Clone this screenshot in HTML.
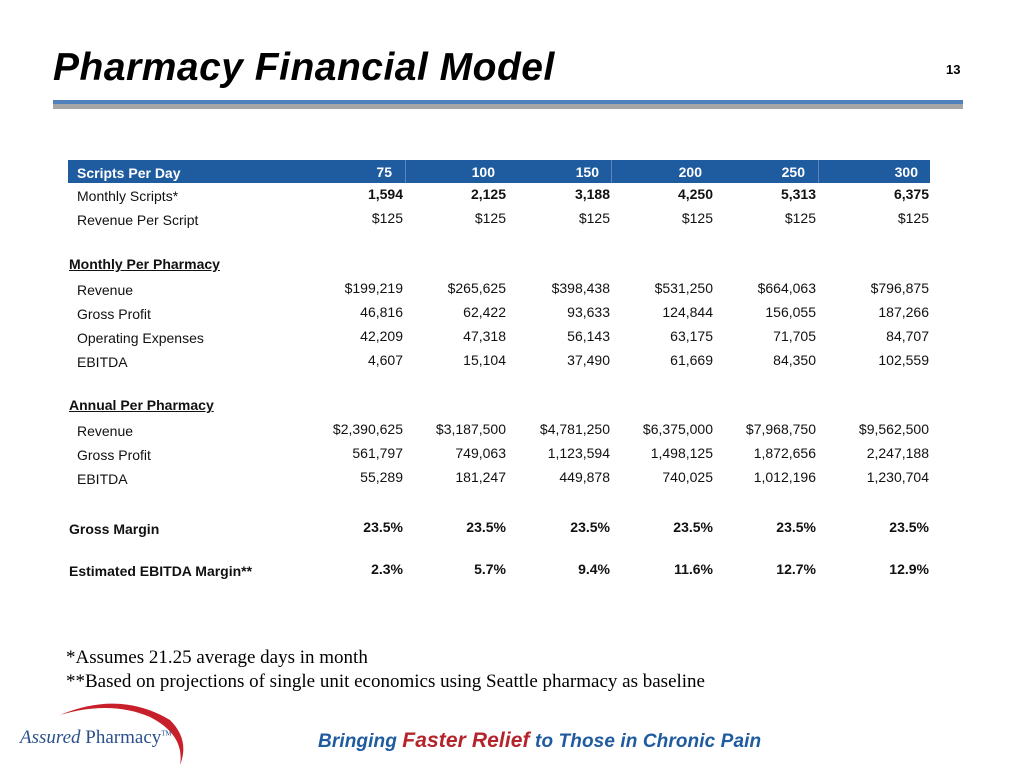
<!DOCTYPE html>
<html><head><meta charset="utf-8">
<style>
body{margin:0;width:1024px;height:768px;background:#fff;position:relative;overflow:hidden;font-family:"Liberation Sans",sans-serif;}
.a{position:absolute;white-space:nowrap;}
.lbl{font-size:14px;color:#111;}
.val{font-size:14px;color:#111;text-align:right;width:100px;}
</style></head>
<body>
<div class="a" style="left:53px;top:46px;font-size:39px;font-weight:bold;font-style:italic;color:#000;letter-spacing:0.5px;">Pharmacy Financial Model</div>
<div class="a" style="left:946px;top:62px;font-size:13px;font-weight:bold;">13</div>
<div class="a" style="left:53px;top:100px;width:910px;height:4px;background:#4f81bd;"></div>
<div class="a" style="left:53px;top:104px;width:910px;height:5px;background:#a6a6a6;"></div>
<div class="a" style="left:68px;top:160px;width:862px;height:23px;background:#1f5b9f;"></div>
<div class="a" style="left:405px;top:160px;width:1px;height:23px;background:#5b86c0;"></div>
<div class="a" style="left:611px;top:160px;width:1px;height:23px;background:#5b86c0;"></div>
<div class="a" style="left:818px;top:160px;width:1px;height:23px;background:#5b86c0;"></div>
<div id="tbl"></div>
<div class="a" style="left:66px;top:647px;font-family:'Liberation Serif',serif;font-size:19px;">*Assumes 21.25 average days in month</div>
<div class="a" style="left:66px;top:671px;font-family:'Liberation Serif',serif;font-size:19px;">**Based on projections of single unit economics using Seattle pharmacy as baseline</div>
<svg class="a" style="left:0;top:695px" width="200" height="73"><path d="M60 20 Q120 -5 170 25 Q190 45 180 70 Q185 40 150 22 Q110 5 60 20Z" fill="#c8202a"/></svg>
<div class="a" style="left:20px;top:727px;font-family:'Liberation Serif',serif;font-size:19px;color:#2a4f8c;"><i>Assured</i> Pharmacy<sup style="font-size:7px">TM</sup></div>
<div class="a" style="left:318px;top:729px;font-size:19px;font-weight:bold;font-style:italic;color:#1f5b9f;letter-spacing:0.1px;">Bringing <span style="color:#b4242a;font-size:21px">Faster Relief</span> to Those in Chronic Pain</div>
<script>
const scriptsPerDay=["75","100","150","200","250","300"];
const monthlyScripts=["1,594","2,125","3,188","4,250","5,313","6,375"];
const revPerScript=["$125","$125","$125","$125","$125","$125"];
const mRevenue=["$199,219","$265,625","$398,438","$531,250","$664,063","$796,875"];
const mGross=["46,816","62,422","93,633","124,844","156,055","187,266"];
const mOpex=["42,209","47,318","56,143","63,175","71,705","84,707"];
const mEbitda=["4,607","15,104","37,490","61,669","84,350","102,559"];
const aRevenue=["$2,390,625","$3,187,500","$4,781,250","$6,375,000","$7,968,750","$9,562,500"];
const aGross=["561,797","749,063","1,123,594","1,498,125","1,872,656","2,247,188"];
const aEbitda=["55,289","181,247","449,878","740,025","1,012,196","1,230,704"];
const grossMargin=["23.5%","23.5%","23.5%","23.5%","23.5%","23.5%"];
const ebitdaMargin=["2.3%","5.7%","9.4%","11.6%","12.7%","12.9%"];
const colRight=[403,506,610,713,816,929];
const rows=[
 {l:"Scripts Per Day",v:scriptsPerDay,y:164,x:77,hdr:true},
 {l:"Monthly Scripts*",v:monthlyScripts,y:187,x:77,bv:true},
 {l:"Revenue Per Script",v:revPerScript,y:211,x:77},
 {l:"Monthly Per Pharmacy",y:255,x:69,sec:true},
 {l:"Revenue",v:mRevenue,y:281,x:77},
 {l:"Gross Profit",v:mGross,y:305,x:77},
 {l:"Operating Expenses",v:mOpex,y:329,x:77},
 {l:"EBITDA",v:mEbitda,y:353,x:77},
 {l:"Annual Per Pharmacy",y:396,x:69,sec:true},
 {l:"Revenue",v:aRevenue,y:422,x:77},
 {l:"Gross Profit",v:aGross,y:446,x:77},
 {l:"EBITDA",v:aEbitda,y:470,x:77},
 {l:"Gross Margin",v:grossMargin,y:520,x:69,bl:true,bv:true},
 {l:"Estimated EBITDA Margin**",v:ebitdaMargin,y:562,x:69,bl:true,bv:true}
];
const t=document.getElementById('tbl');
rows.forEach((r,i)=>{
 const d=document.createElement('div');
 d.className='a lbl';
 
 
 d.style.left=r.x+'px';d.style.top=(r.y+1)+'px';
 if(r.hdr){d.style.color='#fff';d.style.fontWeight='bold';}
 if(r.sec){d.style.fontWeight='bold';d.style.textDecoration='underline';}
 if(r.bl)d.style.fontWeight='bold';
 d.textContent=r.l;t.appendChild(d);
 if(r.v)r.v.forEach((v,j)=>{
  const c=document.createElement('div');
  c.className='a val';
  
  
  c.style.left=(colRight[j]-(r.hdr?111:100))+'px';c.style.top=(r.y-(r.hdr?0:1))+'px';
  if(r.hdr){c.style.color='#fff';c.style.fontWeight='bold';}
  if(r.bv)c.style.fontWeight='bold';
  c.textContent=v;t.appendChild(c);
 });
});
</script>
</body></html>
